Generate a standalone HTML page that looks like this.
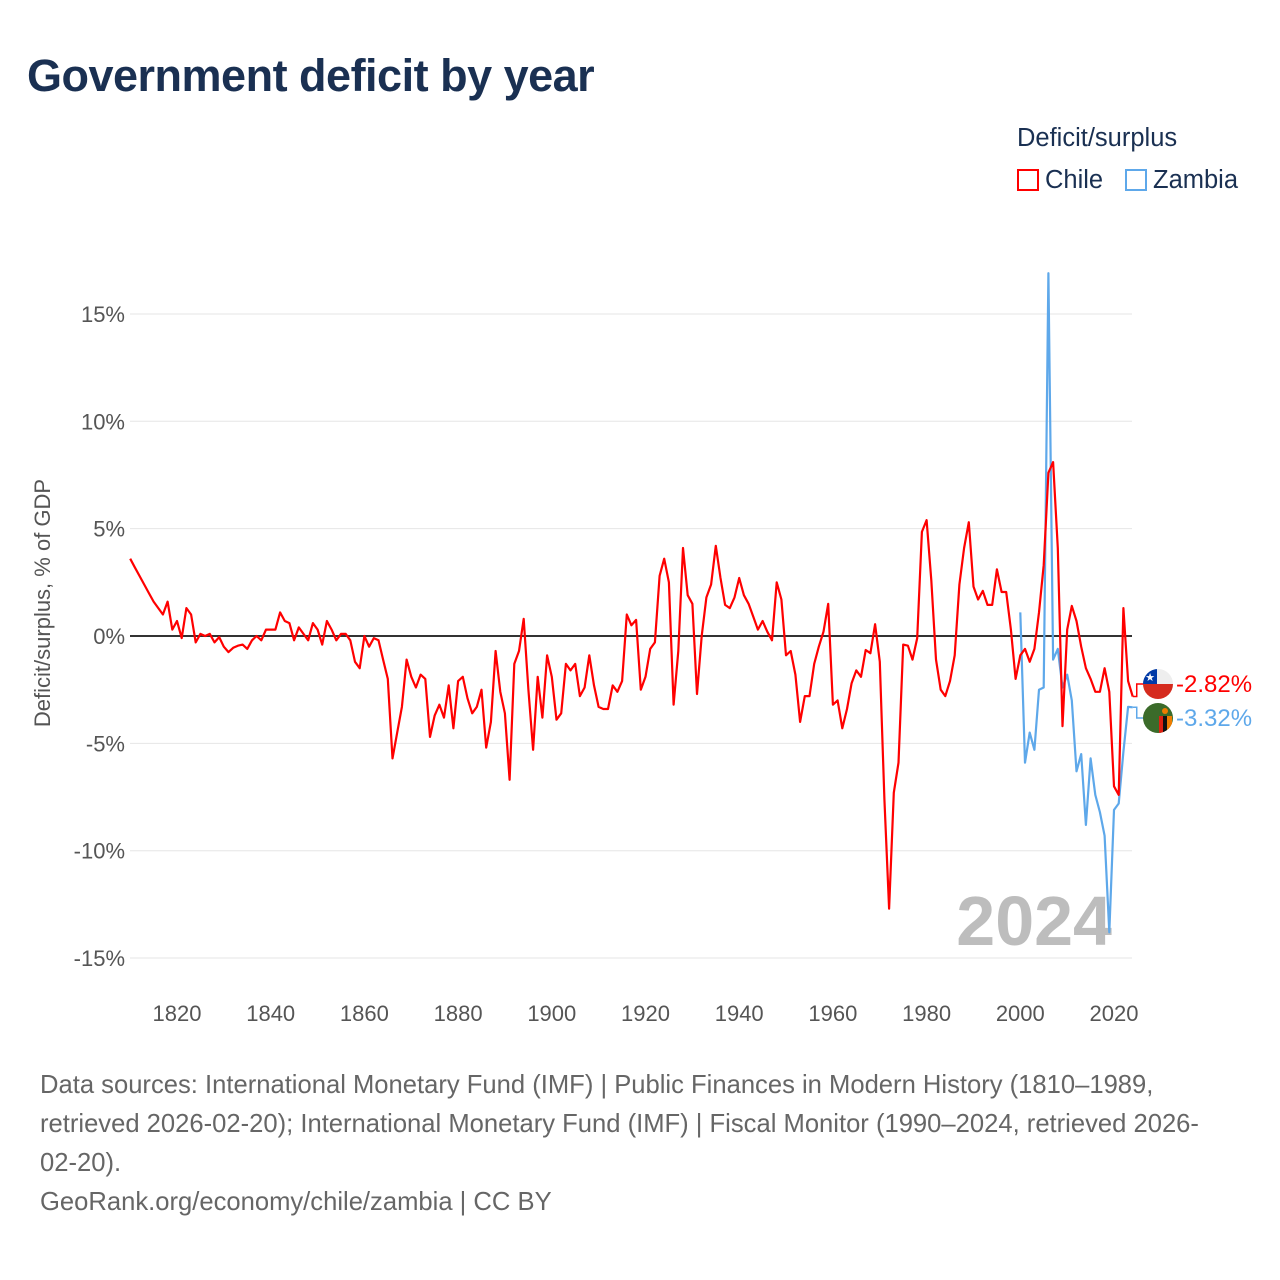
<!DOCTYPE html>
<html><head><meta charset="utf-8">
<style>
body{margin:0;background:#fff;font-family:"Liberation Sans",sans-serif;}
#wrap{position:relative;width:1280px;height:1280px;overflow:hidden;}
.t{position:absolute;white-space:nowrap;}
</style></head>
<body>
<div id="wrap">
<div class="t" style="left:27px;top:50px;font-size:45px;font-weight:bold;color:#1a3052;letter-spacing:-0.5px">Government deficit by year</div>
<div class="t" style="left:1017px;top:124px;font-size:25.5px;color:#1a3052">Deficit/surplus</div>
<div class="t" style="left:1017px;top:166px;font-size:25.5px;color:#1a3052"><span style="display:inline-block;width:22px;height:22px;border:2px solid #f00;box-sizing:border-box;vertical-align:-3px;margin-right:6px"></span>Chile</div>
<div class="t" style="left:1125px;top:166px;font-size:25.5px;color:#1a3052"><span style="display:inline-block;width:22px;height:22px;border:2px solid #5ea8ea;box-sizing:border-box;vertical-align:-3px;margin-right:6px"></span>Zambia</div>
<svg id="chart" width="1280" height="1280" style="position:absolute;left:0;top:0"></svg>
<div class="t" style="left:40px;top:1066px;font-size:25.6px;line-height:39px;color:#666">Data sources: International Monetary Fund (IMF) | Public Finances in Modern History (1810–1989,<br>retrieved 2026-02-20); International Monetary Fund (IMF) | Fiscal Monitor (1990–2024, retrieved 2026-<br>02-20).<br>GeoRank.org/economy/chile/zambia | CC BY</div>
</div>
<script>
const yTicks=[15,10,5,0,-5,-10,-15];
const xTicks=[1820,1840,1860,1880,1900,1920,1940,1960,1980,2000,2020];
const chileStart=1810;
const chileVals=[3.6,3.2,2.8,2.4,2.0,1.6,1.3,1.0,1.6,0.3,0.7,-0.1,1.3,1.0,-0.3,0.1,0,0.1,-0.3,-0.05,-0.5,-0.75,-0.55,-0.45,-0.4,-0.6,-0.2,0,-0.2,0.3,0.3,0.3,1.1,0.7,0.6,-0.2,0.4,0.1,-0.2,0.6,0.3,-0.4,0.7,0.3,-0.2,0.1,0.1,-0.2,-1.2,-1.5,0,-0.5,-0.1,-0.2,-1.1,-2.0,-5.7,-4.5,-3.3,-1.1,-1.9,-2.4,-1.8,-2.0,-4.7,-3.7,-3.2,-3.8,-2.3,-4.3,-2.1,-1.9,-2.9,-3.6,-3.3,-2.5,-5.2,-4.0,-0.7,-2.6,-3.6,-6.7,-1.3,-0.7,0.8,-2.5,-5.3,-1.9,-3.8,-0.9,-1.9,-3.9,-3.6,-1.3,-1.6,-1.3,-2.8,-2.4,-0.9,-2.3,-3.3,-3.4,-3.4,-2.3,-2.6,-2.1,1.0,0.5,0.75,-2.5,-1.9,-0.6,-0.3,2.8,3.6,2.5,-3.2,-0.7,4.1,1.9,1.5,-2.7,0,1.8,2.4,4.2,2.7,1.45,1.3,1.8,2.7,1.9,1.5,0.9,0.3,0.7,0.2,-0.2,2.5,1.7,-0.9,-0.7,-1.8,-4.0,-2.8,-2.8,-1.3,-0.5,0.2,1.5,-3.2,-3.0,-4.3,-3.4,-2.2,-1.6,-1.9,-0.65,-0.8,0.55,-1.2,-7.6,-12.7,-7.3,-5.9,-0.4,-0.45,-1.1,-0.1,4.85,5.4,2.6,-1.1,-2.5,-2.8,-2.1,-0.9,2.4,4.1,5.3,2.3,1.7,2.1,1.45,1.45,3.1,2.05,2.05,0.3,-2.0,-0.9,-0.6,-1.2,-0.6,1.1,3.3,7.6,8.1,4.1,-4.2,0.3,1.4,0.7,-0.5,-1.5,-2.0,-2.6,-2.6,-1.5,-2.6,-7.0,-7.4,1.3,-2.1,-2.82];
const zambiaStart=2000;
const zambiaVals=[1.1,-5.9,-4.5,-5.3,-2.5,-2.4,16.9,-1.1,-0.6,-2.4,-1.8,-3.0,-6.3,-5.5,-8.8,-5.7,-7.4,-8.2,-9.3,-13.8,-8.1,-7.8,-5.4,-3.3,-3.32];

const X0=130,X1=1132,Y0=636,PPU=21.47;
const xs=yr=>177+(yr-1820)*(1114-177)/200;
const ys=v=>Y0-v*PPU;
const svg=document.getElementById('chart');
const NS='http://www.w3.org/2000/svg';
function mk(tag,attrs){const e=document.createElementNS(NS,tag);for(const k in attrs)e.setAttribute(k,attrs[k]);svg.appendChild(e);return e;}

yTicks.forEach(v=>{
  if(v!==0){const g=mk('line',{x1:X0,x2:X1,y1:ys(v),y2:ys(v),stroke:'#e6e6e6','stroke-width':1});
  
  }
  const t=mk('text',{x:125,y:ys(v)+8,'text-anchor':'end','font-size':22,fill:'#555','font-family':'Liberation Sans, sans-serif'});
  t.textContent=v+'%';
  
  
});
xTicks.forEach(yr=>{
  const t=mk('text',{x:xs(yr),y:1021,'text-anchor':'middle','font-size':22,fill:'#555','font-family':'Liberation Sans, sans-serif'});
  t.textContent=yr;
  
  
});
const yt=mk('text',{x:0,y:0,transform:'translate(50,603) rotate(-90)','text-anchor':'middle','font-size':22,fill:'#555','font-family':'Liberation Sans, sans-serif'});
yt.textContent='Deficit/surplus, % of GDP';



const yr=mk('text',{x:1112,y:945,'text-anchor':'end','font-size':70,'font-weight':'bold',fill:'#bdbdbd','font-family':'Liberation Sans, sans-serif'});
yr.textContent='2024';



const zl=mk('line',{x1:X0,x2:X1,y1:Y0,y2:Y0,stroke:'#333','stroke-width':2});



function series(start,vals,color,name){
  const d=vals.map((v,i)=>(i?'L':'M')+xs(start+i).toFixed(1)+','+ys(v).toFixed(1)).join('');
  const p=mk('path',{d:d,fill:'none',stroke:color,'stroke-width':2.2,'stroke-linejoin':'round'});
  
  
}
series(zambiaStart,zambiaVals,'#5ea8ea','zambia-line');
series(chileStart,chileVals,'#ff0000','chile-line');

function endLabel(vals,start,color,labelY,name,flag){
  const last=vals[vals.length-1];
  const ex=xs(start+vals.length-1),ey=ys(last);
  const s=mk('path',{d:`M${ex},${ey}H${ex+4}V${labelY}H1144`,fill:'none',stroke:color,'stroke-width':1.5});
  
  
  flag(1158,labelY);
  const t=mk('text',{x:1176,y:labelY+8,'font-size':24,fill:color,'font-family':'Liberation Sans, sans-serif'});
  t.textContent=last.toFixed(2)+'%';
  
  
}
function chileFlag(cx,cy){
  const g=document.createElementNS(NS,'g');svg.appendChild(g);
  
  
  g.innerHTML=`<clipPath id="cc"><circle cx="${cx}" cy="${cy}" r="15"/></clipPath><g clip-path="url(#cc)"><rect x="${cx-15}" y="${cy-15}" width="30" height="15" fill="#eee"/><rect x="${cx-15}" y="${cy}" width="30" height="15" fill="#d52b1e"/><rect x="${cx-15}" y="${cy-15}" width="14" height="15" fill="#0039a6"/><text x="${cx-8}" y="${cy-3}" font-size="11" fill="#fff" text-anchor="middle">★</text></g>`;
}
function zambiaFlag(cx,cy){
  const g=document.createElementNS(NS,'g');svg.appendChild(g);
  
  
  g.innerHTML=`<clipPath id="zc"><circle cx="${cx}" cy="${cy}" r="15"/></clipPath><g clip-path="url(#zc)"><rect x="${cx-15}" y="${cy-15}" width="30" height="30" fill="#3b6b2a"/><rect x="${cx+1}" y="${cy-2}" width="4" height="17" fill="#de2010"/><rect x="${cx+5}" y="${cy-2}" width="4" height="17" fill="#111"/><rect x="${cx+9}" y="${cy-2}" width="5" height="17" fill="#ef7d00"/><circle cx="${cx+7}" cy="${cy-7}" r="3" fill="#ef7d00"/></g>`;
}
endLabel(chileVals,chileStart,'#ff0000',684,'chile',chileFlag);
endLabel(zambiaVals,zambiaStart,'#5ea8ea',718,'zambia',zambiaFlag);
</script>
</body></html>
